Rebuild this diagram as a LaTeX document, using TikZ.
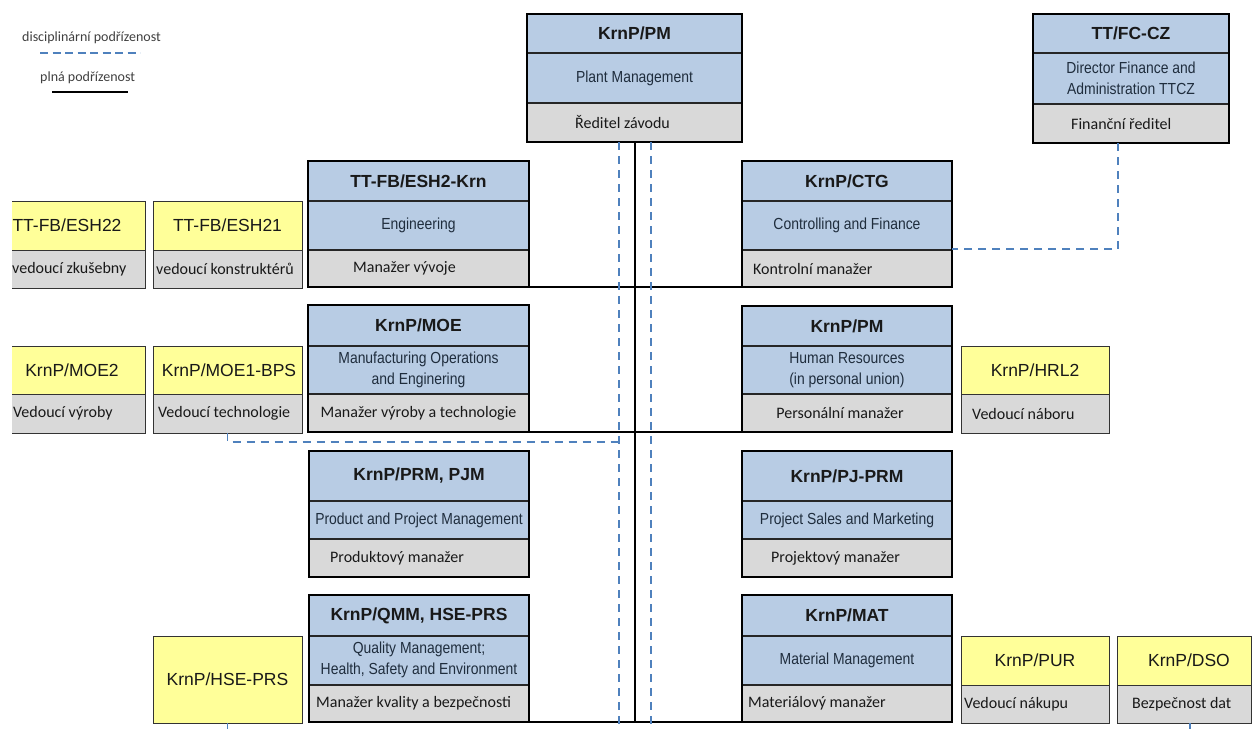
\documentclass[tikz,border=0pt]{standalone}
\usepackage{fontspec}
\setmainfont{Liberation Sans}
\newfontfamily\narrowf[FakeStretch=0.87]{Liberation Sans}
\newfontfamily\calf{Carlito}
\definecolor{blueF}{HTML}{B8CCE4}
\definecolor{grayF}{HTML}{D9D9D9}
\definecolor{yelF}{HTML}{FFFF99}
\definecolor{dashC}{HTML}{4F81BD}
\definecolor{midT}{HTML}{1F2D3D}
\definecolor{legT}{HTML}{404040}
\tikzset{
 frame/.style={draw=black, line width=2pt, inner sep=0pt, outer sep=0pt, rectangle},
 yframe/.style={draw=black!80, line width=1pt, inner sep=0pt, outer sep=0pt, rectangle},
 divl/.style={line width=1.3pt, draw=black!85},
 ydiv/.style={line width=1pt, draw=black!80},
 hdr/.style={font=\fontsize{17.5}{20}\selectfont\bfseries, text=black!90, inner sep=0pt},
 yhdr/.style={font=\fontsize{17.5}{20}\selectfont, text=black!90, inner sep=0pt},
 mid/.style={font=\narrowf\fontsize{16}{21}\selectfont, text=midT, align=center, inner sep=0pt},
 low/.style={font=\calf\fontsize{16}{19}\selectfont, text=black!90, inner sep=0pt},
 legtext/.style={font=\calf\fontsize{14}{16}\selectfont, text=legT, inner sep=0pt, anchor=west},
 disc/.style={draw=dashC, line width=1.6pt, dash pattern=on 8pt off 6pt},
 full/.style={draw=black, line width=2pt},
}
% name x1 x2 ytop y1 y2 ybot
\newcommand\BBox[7]{%
  \fill[blueF] (#2,#4) rectangle (#3,#6);
  \fill[grayF] (#2,#6) rectangle (#3,#7);
  \draw[divl] (#2,#5) -- (#3,#5) (#2,#6) -- (#3,#6);
  \node[frame, minimum width={#3-#2}, minimum height={#7-#4}] (#1) at ({(#2+#3)/2},{(#4+#7)/2}) {};
}
% name x1 x2 ytop ymid ybot
\newcommand\YBox[6]{%
  \fill[yelF] (#2,#4) rectangle (#3,#5);
  \fill[grayF] (#2,#5) rectangle (#3,#6);
  \draw[ydiv] (#2,#5) -- (#3,#5);
  \node[yframe, minimum width={#3-#2}, minimum height={#6-#4}] (#1) at ({(#2+#3)/2},{(#4+#6)/2}) {};
}
\begin{document}
\begin{tikzpicture}[x=1pt,y=-1pt]
\fill[white] (0,0) rectangle (1255,729);
\useasboundingbox (0,0) rectangle (1255,729);

% legend
\node[legtext] (leg1) at (22,38) {disciplinární podřízenost};
\coordinate (lg1a) at (40,53); \coordinate (lg1b) at (140,53);
\draw[disc, line width=2.6pt, dash pattern=on 8pt off 4.5pt] (lg1a) -- (lg1b);
\node[legtext] (leg2) at (40,78) {plná podřízenost};
\coordinate (lg2a) at (52,92); \coordinate (lg2b) at (128,92);
\draw[full, line width=2.4pt] (lg2a) -- (lg2b);

% top row
\BBox{pm}{527}{742}{14}{53}{103}{142}
\node[hdr] (pmh) at (634.5,33.5) {KrnP/PM};
\node[mid] (pmm) at (634.5,78) {Plant Management};
\node[low, anchor=west] (pml) at (575,122.5) {Ředitel závodu};

\BBox{fc}{1033}{1229}{14}{53}{104}{143}
\node[hdr] (fch) at (1131,33.5) {TT/FC-CZ};
\node[mid] (fcm) at (1131,78.5) {Director Finance and\\Administration TTCZ};
\node[low, anchor=west] (fcl) at (1071,123.5) {Finanční ředitel};

% row 1
\BBox{esh}{308}{529}{161}{201}{250}{287}
\node[hdr] (eshh) at (418.5,181) {TT-FB/ESH2-Krn};
\node[mid] (eshm) at (418.5,225.5) {Engineering};
\node[low, anchor=west] (eshl) at (353,268.5) {Manažer vývoje};

\BBox{ctg}{742}{952}{161}{201}{250}{287}
\node[hdr] (ctgh) at (847,181) {KrnP/CTG};
\node[mid] (ctgm) at (847,225.5) {Controlling and Finance};
\node[low, anchor=west] (ctgl) at (753,268.5) {Kontrolní manažer};

\begin{scope}
\clip (12,0) rectangle (150,729);
\YBox{esha}{-20}{145}{201}{250}{288}
\YBox{moea}{-20}{145}{346}{394}{433}
\end{scope}
\node[yhdr] (eshah) at (67,225.5) {TT-FB/ESH22};
\node[low, anchor=west] (eshal) at (12,269) {vedoucí zkušebny};
\node[yhdr] (moeah) at (72,370) {KrnP/MOE2};
\node[low, anchor=west] (moeal) at (13,413.5) {Vedoucí výroby};

\YBox{eshb}{153}{302}{201}{250}{288}
\node[yhdr] (eshbh) at (227.5,225.5) {TT-FB/ESH21};
\node[low, anchor=west] (eshbl) at (156,269) {vedoucí konstruktérů};

% row 2
\BBox{moe}{308}{529}{305}{346}{394}{432}
\node[hdr] (moeh) at (418.5,325.5) {KrnP/MOE};
\node[mid] (moem) at (418.5,370) {Manufacturing Operations\\and Enginering};
\node[low] (moel) at (418.5,413) {Manažer výroby a technologie};

\BBox{hr}{742}{952}{306}{346}{394}{432}
\node[hdr] (hrh) at (847,326) {KrnP/PM};
\node[mid] (hrm) at (847,370) {Human Resources\\(in personal union)};
\node[low] (hrl) at (840,413) {Personální manažer};

\YBox{moeb}{153}{302}{346}{394}{433}
\node[yhdr] (moebh) at (229,370) {KrnP/MOE1-BPS};
\node[low, anchor=west] (moebl) at (158,413.5) {Vedoucí technologie};

\YBox{hrl2}{961}{1109}{346}{394}{433}
\node[yhdr] (hrl2h) at (1035,370) {KrnP/HRL2};
\node[low, anchor=west] (hrl2l) at (972,413.5) {Vedoucí náboru};

% row 3
\BBox{prm}{309}{529}{451}{501}{539}{577}
\node[hdr] (prmh) at (419,476) {KrnP/PRM, PJM};
\node[mid] (prmm) at (419,520) {Product and Project Management};
\node[low, anchor=west] (prml) at (330,558) {Produktový manažer};

\BBox{pj}{742}{952}{451}{501}{539}{577}
\node[hdr] (pjh) at (847,476) {KrnP/PJ-PRM};
\node[mid] (pjm) at (847,520) {Project Sales and Marketing};
\node[low, anchor=west] (pjl) at (771,558) {Projektový manažer};

% row 4
\BBox{qmm}{309}{529}{595}{636}{685}{722}
\node[hdr] (qmmh) at (419,615.5) {KrnP/QMM, HSE-PRS};
\node[mid] (qmmm) at (419,660) {Quality Management;\\Health, Safety and Environment};
\node[low, anchor=west] (qmml) at (316,703.5) {Manažer kvality a bezpečnosti};

\BBox{mat}{742}{952}{595}{636}{685}{722}
\node[hdr] (math) at (847,615.5) {KrnP/MAT};
\node[mid] (matm) at (847,660.5) {Material Management};
\node[low, anchor=west] (matl) at (748,703.5) {Materiálový manažer};

\node[yframe, fill=yelF, minimum width=149pt, minimum height=87pt] (hse) at (227.5,679.5) {};
\node[yhdr] (hseh) at (227.5,679.5) {KrnP/HSE-PRS};

\YBox{pur}{961}{1109}{636}{685}{723}
\node[yhdr] (purh) at (1035,660.5) {KrnP/PUR};
\node[low, anchor=west] (purl) at (964,704) {Vedoucí nákupu};

\YBox{dso}{1117}{1251}{636}{685}{723}
\node[yhdr] (dsoh) at (1189,660.5) {KrnP/DSO};
\node[low, anchor=west] (dsol) at (1132,704) {Bezpečnost dat};

% full subordination
\draw[full] (pm.south) -- (pm.south |- mat.south west);
\draw[full] (esh.south east) -- (ctg.south west);
\draw[full] (moe.south east) -- (hr.south west);
\draw[full] (qmm.south east) -- (mat.south west);

% disciplinary subordination
\coordinate (dl) at (619,729);
\coordinate (dr) at (651,729);
\coordinate (j1) at (619,442);
\draw[disc] (pm.south -| dl) -- (dl);
\draw[disc] (pm.south -| dr) -- (dr);
\draw[disc] ([xshift=-13pt]fc.south) |- ([yshift=38pt]ctg.south east);
\draw[disc] (moeb.south) |- (j1);
\draw[disc] (hse.south) -- (hse.south |- dl);
\draw[disc] ([xshift=6pt]dso.south) -- ([xshift=6pt]dso.south |- dl);
\end{tikzpicture}
\end{document}
